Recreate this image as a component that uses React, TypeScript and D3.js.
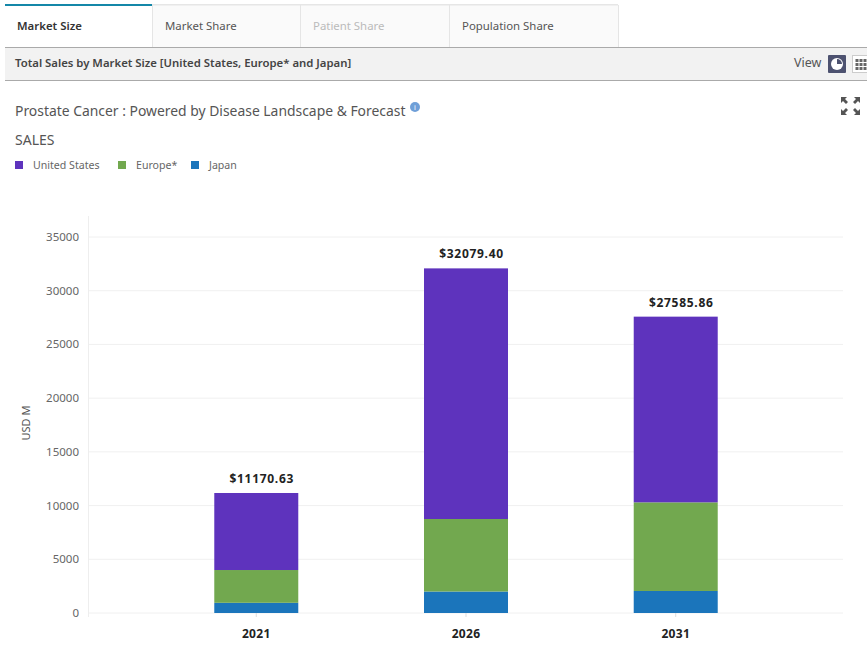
import React from "react";
import * as d3 from "d3";

const years = ["2021", "2026", "2031"];
const japan = [950, 2000, 2050];
const europe = [3050, 6750, 8250];
const totals = [11170.63, 32079.4, 27585.86];
const unitedStates = totals.map((t, i) => t - japan[i] - europe[i]);
const yTicks = [0, 5000, 10000, 15000, 20000, 25000, 30000, 35000];
const seriesNames = ["Japan", "Europe*", "United States"];
const seriesColors = ["#1b75bb", "#72a84f", "#5e33bd"];
const seriesValues = [japan, europe, unitedStates];
const legendNames = ["United States", "Europe*", "Japan"];
const legendColors = ["#5e33bd", "#72a84f", "#1b75bb"];
const legendX = [15, 118, 191];
const tabs = ["Market Size", "Market Share", "Patient Share", "Population Share"];
const tabEdges = [5, 152, 300, 449, 618];
const tabText = ["#333", "#555", "#bbb", "#555"];

const font = "'Noto Sans', sans-serif";
const x = d3.scalePoint<string>().domain(years).range([88.5, 843.5]).padding(0.8);
const y = d3.scaleLinear().domain([0, 35000]).range([613, 237]);
const barW = 84;

export default function App() {
  const stacks = d3
    .stack<number>()
    .keys([0, 1, 2] as any)
    .value((i: any, k: any) => seriesValues[k][i])(years.map((_, i) => i) as any);
  return (
    <svg
      width={867}
      height={655}
      style={{ position: "fixed", left: 0, top: 0, background: "#fff", fontFamily: font }}
    >
      {/* tabs */}
      <rect x={5} y={4} width={613} height={43} fill="#fafafa" />
      <rect x={5} y={5} width={147} height={42} fill="#fff" />
      <rect x={152} y={4} width={466} height={1.5} fill="#e6e6e6" />
      <rect x={5} y={4} width={147} height={2} fill="#1487a8" />
      {tabEdges.slice(1).map((e) => (
        <line key={e} x1={e + 0.5} x2={e + 0.5} y1={5} y2={47} stroke="#e5e5e5" />
      ))}
      {tabs.map((t, i) => (
        <text
          key={t}
          x={tabEdges[i] + (i === 0 ? 12 : 13)}
          y={30}
          fontSize={11.4}
          fontWeight={i === 0 ? 600 : 400}
          fill={tabText[i]}
        >
          {t}
        </text>
      ))}
      {/* header bar */}
      <rect x={5} y={47} width={862} height={33} fill="#f2f2f2" />
      <line x1={5} x2={867} y1={47.5} y2={47.5} stroke="#aaa" />
      <line x1={5} x2={867} y1={80.5} y2={80.5} stroke="#aaa" />
      <text x={15} y={67} fontSize={11.35} fontWeight={600} fill="#444">
        Total Sales by Market Size [United States, Europe* and Japan]
      </text>
      <text x={794} y={67} fontSize={12.5} fill="#555">View</text>
      <rect x={828} y={55} width={18} height={18} rx={1} fill="#4d5270" />
      <circle cx={837} cy={64} r={6} fill="#fff" />
      <path d="M837 64V59A5 5 0 0 1 842 64Z" fill="#4d5270" />
      <rect x={852.5} y={55.5} width={16} height={17} fill="#fff" stroke="#ccc" />
      {[0, 1, 2].flatMap((r) =>
        [0, 1, 2].map((c) => (
          <rect key={`${r}-${c}`} x={855.5 + c * 4} y={59 + r * 4} width={3} height={3} fill="#666" />
        ))
      )}
      {/* expand icon */}
      <g fill="#555">
        <path d="M841 97h6l-2 2 3 3-2 2-3-3-2 2z" />
        <path d="M860 97h-6l2 2-3 3 2 2 3-3 2 2z" />
        <path d="M841 115h6l-2-2 3-3-2-2-3 3-2-2z" />
        <path d="M860 115h-6l2-2-3-3 2-2 3 3 2-2z" />
      </g>
      {/* titles */}
      <text x={15} y={116} fontSize={13.9} fill="#555">
        Prostate Cancer : Powered by Disease Landscape &amp; Forecast
      </text>
      <circle cx={415} cy={107} r={5} fill="#6f9fd8" />
      <text x={415} y={110} fontSize={7} fill="#fff" textAnchor="middle">i</text>
      <text x={15} y={145} fontSize={14} fill="#555">SALES</text>
      {/* legend */}
      {legendNames.map((n, i) => (
        <g key={n}>
          <rect x={legendX[i]} y={161} width={8} height={8} fill={legendColors[i]} />
          <text x={legendX[i] + 18} y={169} fontSize={10.6} fill="#666">{n}</text>
        </g>
      ))}
      {/* grid */}
      {yTicks.map((t) => (
        <g key={t}>
          <line x1={88} x2={843} y1={y(t)} y2={y(t)} stroke="#f0f0f0" />
          <text x={79} y={y(t) + 4} fontSize={11.5} fill="#666" textAnchor="end">{t}</text>
        </g>
      ))}
      <line x1={88.5} x2={88.5} y1={216} y2={617} stroke="#eee" />
      <text
        transform="translate(30,423) rotate(-90)"
        fontSize={11}
        fill="#555"
        textAnchor="middle"
      >
        USD M
      </text>
      {/* bars */}
      {stacks.map((s, si) =>
        s.map((d, i) => (
          <rect
            key={`${si}-${i}`}
            x={x(years[i])! - barW / 2}
            y={y(d[1])}
            width={barW}
            height={y(d[0]) - y(d[1])}
            fill={seriesColors[si]}
          >
            <title>{seriesNames[si]}</title>
          </rect>
        ))
      )}
      {/* labels */}
      {years.map((yr, i) => (
        <g key={yr}>
          <line x1={x(yr)!} x2={x(yr)!} y1={613} y2={617} stroke="#ddd" />
          <text x={x(yr)!} y={638} fontSize={12} fontWeight={700} letterSpacing={0.3} fill="#222" textAnchor="middle">
            {yr}
          </text>
          <text
            x={x(yr)! + 5.5}
            y={y(totals[i]) - 10}
            fontSize={12}
            fontWeight={700}
            letterSpacing={0.7}
            fill="#222"
            textAnchor="middle"
          >
            {"$" + totals[i].toFixed(2)}
          </text>
        </g>
      ))}
    </svg>
  );
}
